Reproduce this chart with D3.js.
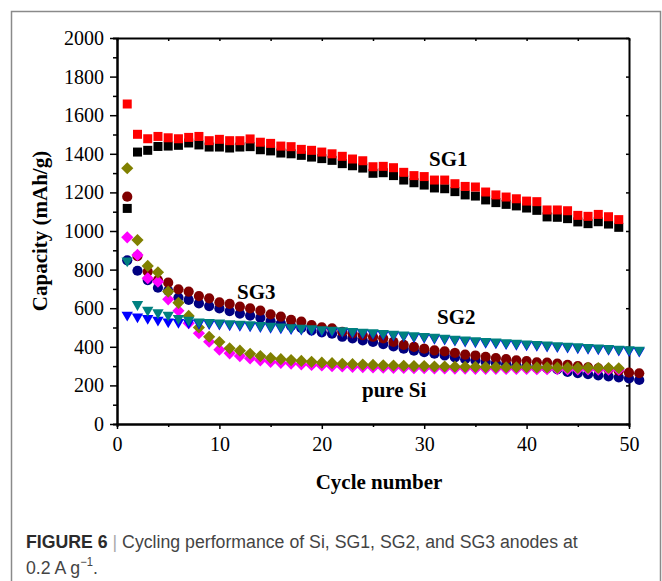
<!DOCTYPE html>
<html>
<head>
<meta charset="utf-8">
<script src="https://cdn.jsdelivr.net/npm/d3@7"></script>
<style>
  body { margin: 0; background: #fff; }
  svg { display: block; }
</style>
</head>
<body>
<script>
// cycle numbers
var cycles = d3.range(1, 52);

// SG1 (squares) - 49 cycles
var sg1Red = [1658,1501,1478,1490,1483,1478,1485,1490,1468,1475,1468,1468,1477,1460,1454,1440,1437,1423,1418,1409,
  1400,1387,1373,1364,1333,1335,1328,1304,1287,1282,1264,1264,1245,1231,1228,1202,1187,1176,1167,1155,
  1152,1109,1109,1105,1081,1076,1086,1074,1059];
var sg1Black = [1117,1409,1418,1438,1440,1444,1456,1446,1435,1435,1430,1435,1437,1421,1415,1404,1400,1392,1383,1375,
  1366,1349,1338,1326,1299,1302,1287,1264,1250,1238,1223,1219,1204,1187,1181,1161,1147,1138,1130,1119,
  1107,1073,1071,1064,1047,1038,1048,1036,1019];

// SG3 (circles) - 51 cycles
var sg3Wine = [1178,870,790,745,732,698,686,663,651,630,622,608,599,587,568,556,539,530,513,501,
  496,478,470,461,452,444,425,410,400,390,382,376,368,360,355,348,342,336,330,326,
  320,318,313,306,300,294,288,283,276,266,263];
var sg3Navy = [848,794,746,706,690,655,643,625,611,599,585,572,562,550,533,522,508,498,485,475,
  468,452,444,433,425,414,402,390,380,372,364,355,345,336,330,322,316,310,303,298,
  292,289,284,270,264,258,252,247,242,236,228];

// pure Si (diamonds) - 49 cycles
var siOlive = [1325,953,819,786,686,628,560,500,452,425,392,380,364,352,342,336,331,327,322,318,
  315,312,310,308,306,304,303,302,300,300,298,298,297,296,296,295,295,294,294,294,
  293,293,292,292,291,291,290,290,289];
var siPink = [967,876,755,737,646,587,522,470,426,385,366,352,340,330,322,317,313,309,306,303,
  300,298,296,295,293,292,291,290,289,289,288,288,287,287,286,286,286,285,285,285,
  284,284,284,283,283,283,282,282,281];

// SG2 (down triangles) - 51 cycles
var sg2Teal = [846,620,590,577,565,548,539,530,527,524,521,518,515,511,507,504,500,497,494,490,
  487,484,480,477,474,470,466,462,458,455,450,446,440,436,432,429,426,422,419,416,
  413,410,407,404,401,398,395,392,389,386,383];
var sg2Blue = [565,556,548,539,530,527,525,523,521,518,515,512,509,506,502,499,495,492,489,485,
  482,479,475,472,469,465,461,457,453,450,445,441,435,431,427,424,421,417,414,411,
  408,405,402,399,396,393,390,387,384,381,378];

var xMajor = [0, 10, 20, 30, 40, 50];
var xMinor = [5, 15, 25, 35, 45];
var yMajor = [0, 200, 400, 600, 800, 1000, 1200, 1400, 1600, 1800, 2000];
var yMinor = [100, 300, 500, 700, 900, 1100, 1300, 1500, 1700, 1900];

var width = 662, height = 581;
var plot = { left: 117, right: 629, top: 38, bottom: 424 };
var serif = "'Liberation Serif', 'Times New Roman', serif";

var svg = d3.select("body").append("svg").attr("width", width).attr("height", height);

// figure frame (open at bottom)
svg.append("path")
  .attr("d", "M11.5," + height + "V11.5H660.5V" + height)
  .attr("fill", "none").attr("stroke", "#8a8a8a").attr("stroke-width", 1.5);

var x = d3.scaleLinear().domain([0, 50]).range([plot.left, plot.right]);
var y = d3.scaleLinear().domain([0, 2000]).range([plot.bottom, plot.top]);

function styleAxis(g) {
  g.attr("font-family", serif).attr("font-size", 20);
  g.select(".domain").attr("stroke", "#000").attr("stroke-width", 2);
  g.selectAll(".tick line").attr("stroke", "#000").attr("stroke-width", 1.5);
  g.selectAll(".tick text").attr("fill", "#000");
}

// minor ticks first
svg.append("g").attr("transform", "translate(" + plot.left + ",0)")
  .call(d3.axisLeft(y).tickValues(yMinor).tickSize(4).tickFormat(""))
  .call(styleAxis);
svg.append("g").attr("transform", "translate(0," + plot.bottom + ")")
  .call(d3.axisBottom(x).tickValues(xMinor).tickSize(3).tickFormat(""))
  .call(styleAxis);

// top and right frame with small inward ticks
svg.append("g").attr("transform", "translate(0," + plot.top + ")")
  .call(d3.axisTop(x).tickValues(xMinor.concat(xMajor)).tickSizeInner(-3).tickSizeOuter(0).tickFormat(""))
  .call(styleAxis);
svg.append("g").attr("transform", "translate(" + plot.right + ",0)")
  .call(d3.axisRight(y).tickValues(yMajor).tickSizeInner(-3).tickSizeOuter(0).tickFormat(""))
  .call(styleAxis);

// major axes
svg.append("g").attr("transform", "translate(" + plot.left + ",0)")
  .call(d3.axisLeft(y).tickValues(yMajor).tickFormat(d3.format("d")).tickSizeInner(7).tickSizeOuter(0).tickPadding(6))
  .call(styleAxis);
svg.append("g").attr("transform", "translate(0," + plot.bottom + ")")
  .call(d3.axisBottom(x).tickValues(xMajor).tickFormat(d3.format("d")).tickSizeInner(5).tickSizeOuter(0).tickPadding(8))
  .call(styleAxis);

// axis titles
svg.append("text")
  .attr("x", 379).attr("y", 489)
  .attr("text-anchor", "middle")
  .attr("font-family", serif).attr("font-size", 21).attr("font-weight", "bold")
  .text("Cycle number");
svg.append("text")
  .attr("transform", "translate(47,231) rotate(-90)")
  .attr("text-anchor", "middle")
  .attr("font-family", serif).attr("font-size", 21).attr("font-weight", "bold")
  .text("Capacity (mAh/g)");

// series
var square = d3.symbol().type(d3.symbolSquare).size(81)();
var circle = d3.symbol().type(d3.symbolCircle).size(82)();
var diamond = d3.symbol().type(d3.symbolSquare).size(74)();
var triangle = d3.symbol().type(d3.symbolTriangle).size(56)();

var series = [
  { values: sg1Black, color: "#000000", path: square, rot: 0 },
  { values: sg1Red, color: "#ff0000", path: square, rot: 0 },
  { values: sg3Navy, color: "#000080", path: circle, rot: 0 },
  { values: sg3Wine, color: "#800000", path: circle, rot: 0 },
  { values: siPink, color: "#ff00ff", path: diamond, rot: 45 },
  { values: siOlive, color: "#808000", path: diamond, rot: 45 },
  { values: sg2Blue, color: "#0000ff", path: triangle, rot: 180 },
  { values: sg2Teal, color: "#008080", path: triangle, rot: 180 }
];

series.forEach(function(s) {
  svg.append("g").selectAll("path")
    .data(s.values).enter().append("path")
    .attr("d", s.path)
    .attr("fill", s.color)
    .attr("transform", function(d, i) {
      return "translate(" + x(cycles[i]) + "," + y(d) + ") rotate(" + s.rot + ")";
    });
});

// series labels
var labels = [
  { text: "SG1", x: 429, y: 166 },
  { text: "SG3", x: 237, y: 299 },
  { text: "SG2", x: 437, y: 324 },
  { text: "pure Si", x: 362, y: 397 }
];
svg.append("g").selectAll("text").data(labels).enter().append("text")
  .attr("x", function(d) { return d.x; })
  .attr("y", function(d) { return d.y; })
  .attr("font-family", serif).attr("font-size", 21).attr("font-weight", "bold")
  .text(function(d) { return d.text; });

// caption (condensed look: horizontally squeezed to the reference line length)
var capFont = "'Liberation Sans', Arial, sans-serif";
var cap1 = svg.append("text")
  .attr("font-family", capFont).attr("font-size", 19).attr("fill", "#444");
cap1.append("tspan").attr("font-weight", "bold").attr("fill", "#2b2b2b").text("FIGURE 6");
cap1.append("tspan").attr("fill", "#aaa").text(" | ");
cap1.append("tspan").text("Cycling performance of Si, SG1, SG2, and SG3 anodes at");

var cap2 = svg.append("text")
  .attr("font-family", capFont).attr("font-size", 19).attr("fill", "#444");
cap2.append("tspan").text("0.2 A g");
cap2.append("tspan").attr("dy", -8).attr("font-size", 12).text("\u22121");
cap2.append("tspan").attr("dy", 8).text(".");

var sx = 552 / cap1.node().getComputedTextLength();
cap1.attr("transform", "translate(26,548) scale(" + sx + ",1)");
cap2.attr("transform", "translate(26,574) scale(" + sx + ",1)");
</script>
</body>
</html>
